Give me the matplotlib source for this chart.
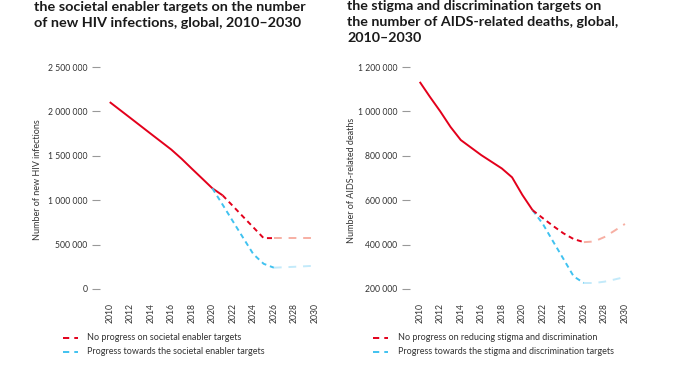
import matplotlib
matplotlib.use("Agg")
import matplotlib.pyplot as plt
from matplotlib.lines import Line2D

plt.rcParams['font.family'] = ['Lato', 'DejaVu Sans']

# ---------------- Data ----------------
years_hist_l = [2010, 2012, 2014, 2016, 2017, 2018, 2019, 2020, 2021]
hist_l = [2105000, 1927000, 1748000, 1570000, 1467000, 1355000, 1245000, 1134000, 1055000]
years_np_l = [2021, 2022, 2023, 2024, 2025, 2026]
np_l = [1055000, 935000, 814000, 694000, 573000, 573000]
years_np_l_fade = [2026, 2027, 2028, 2029, 2030]
np_l_fade = [573000, 573000, 573000, 573000, 573000]
years_pr_l = [2020, 2021, 2022, 2023, 2024, 2025, 2026]
pr_l = [1134000, 950000, 763000, 577000, 392000, 284000, 240000]
years_pr_l_fade = [2026, 2027, 2028, 2029, 2030]
pr_l_fade = [240000, 245000, 250000, 256000, 262000]

years_hist_r = [2010, 2011, 2012, 2013, 2014, 2016, 2018, 2019, 2020, 2021]
hist_r = [1133000, 1065000, 1000000, 930000, 871000, 803000, 743000, 703000, 624000, 555000]
years_np_r = [2021, 2022, 2023, 2024, 2025, 2026]
np_r = [555000, 519000, 484000, 451000, 425000, 411000]
years_np_r_fade = [2026, 2027, 2028, 2029, 2030]
np_r_fade = [411000, 414000, 434000, 463000, 493000]
years_pr_r = [2021, 2022, 2023, 2024, 2025, 2026]
pr_r = [555000, 493000, 414000, 336000, 257000, 227000]
years_pr_r_fade = [2026, 2027, 2028, 2029, 2030]
pr_r_fade = [227000, 227000, 233000, 243000, 254000]

xticks = list(range(2010, 2031, 2))
yticks_l = [0, 500000, 1000000, 1500000, 2000000, 2500000]
yticks_r = [200000, 400000, 600000, 800000, 1000000, 1200000]

title_l = ["the societal enabler targets on the number",
           "of new HIV infections, global, 2010\u20132030"]
title_r = ["the stigma and discrimination targets on",
           "the number of AIDS-related deaths, global,",
           "2010\u20132030"]
ylabel_l = "Number of new HIV infections"
ylabel_r = "Number of AIDS-related deaths"
legend_l = ["No progress on societal enabler targets",
            "Progress towards the societal enabler targets"]
legend_r = ["No progress on reducing stigma and discrimination",
            "Progress towards the stigma and discrimination targets"]

RED = '#E3001B'
RED_F = '#F7AFA3'
BLUE = '#40C2F0'
BLUE_F = '#C3EAFA'
TXT = '#333333'


def fmt(v):
    return f"{v:,}".replace(",", " ")


W, H = 675, 375
fig = plt.figure(figsize=(W / 100, H / 100), dpi=100)


def draw(axrect, yh, h, ynp, np_, ynpf, npf, ypr, pr, yprf, prf, yticks, ylim, ylabel, ylabx):
    ax = fig.add_axes(axrect)
    ax.plot(yh, h, color=RED, lw=1.4, solid_capstyle='butt')
    ax.plot(ypr, pr, color=BLUE, lw=1.4, dashes=(2.6, 2.0))
    ax.plot(yprf, prf, color=BLUE_F, lw=1.4, dashes=(4.0, 3.5))
    ax.plot(ynp, np_, color=RED, lw=1.4, dashes=(2.6, 2.0))
    ax.plot(ynpf, npf, color=RED_F, lw=1.4, dashes=(4.0, 3.5))
    ax.set_xlim(2009.05, 2030.3)
    ax.set_ylim(*ylim)
    for s in ax.spines.values():
        s.set_visible(False)
    ax.set_xticks(xticks)
    ax.set_xticklabels([str(x) for x in xticks], rotation=90, fontsize=6.2, color=TXT)
    ax.tick_params(axis='x', length=0, pad=10)
    ax.set_yticks(yticks)
    ax.set_yticklabels([fmt(v) for v in yticks], fontsize=6.2, color=TXT)
    ax.tick_params(axis='y', length=6, width=0.8, color='#999999', pad=3)
    fig.text(ylabx / W, 1 - 180 / H, ylabel, rotation=90, fontsize=6.5, color=TXT,
             ha='center', va='center')
    return ax


draw([100 / W, 1 - 289 / H, 218 / W, 222 / H],
     years_hist_l, hist_l, years_np_l, np_l, years_np_l_fade, np_l_fade,
     years_pr_l, pr_l, years_pr_l_fade, pr_l_fade, yticks_l, (0, 2500000), ylabel_l, 38)

draw([410 / W, 1 - 289 / H, 218 / W, 222 / H],
     years_hist_r, hist_r, years_np_r, np_r, years_np_r_fade, np_r_fade,
     years_pr_r, pr_r, years_pr_r_fade, pr_r_fade, yticks_r, (200000, 1200000), ylabel_r, 351)

for i, line in enumerate(title_l):
    fig.text(34 / W, 1 - (7 + 16 * i) / H, line, fontsize=10.4, fontweight='bold',
             color='#1a1a1a', ha='left', va='center')
for i, line in enumerate(title_r):
    fig.text(347 / W, 1 - (6 + 16 * i) / H, line, fontsize=10.3, fontweight='bold',
             color='#1a1a1a', ha='left', va='center')


def legend(x_line, x_text, labels):
    for i, (lab, c) in enumerate(zip(labels, [RED, BLUE])):
        y = 1 - (338 + 14 * i) / H
        fig.add_artist(Line2D([x_line / W, (x_line + 15) / W], [y, y], color=c, lw=1.4,
                              dashes=(3.2, 2.6), transform=fig.transFigure))
        fig.text(x_text / W, y, lab, fontsize=6.5, color=TXT, ha='left', va='center')


legend(63, 87, legend_l)
legend(373, 398, legend_r)

fig.savefig("out.png", dpi=100, facecolor='white')
